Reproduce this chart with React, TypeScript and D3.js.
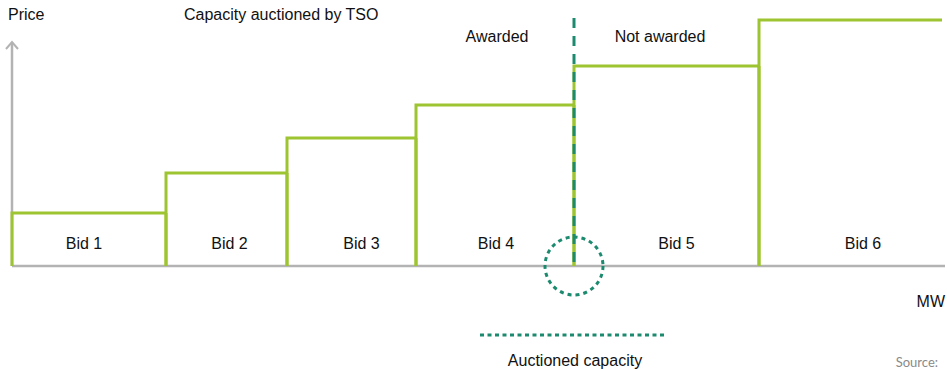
import React, { useEffect, useRef } from 'react'
import { select, scaleLinear, sum } from 'd3'

// bids: offered MW and price (arbitrary units)
const bidNames = ['Bid 1', 'Bid 2', 'Bid 3', 'Bid 4', 'Bid 5', 'Bid 6']
const bidMW = [154, 121, 129, 158, 185, 186]
const bidPrice = [53, 93, 128, 161, 200, 246]
const awardedCount = 4
// labels are not exactly centred in the original
const labelNudge = [-5, 3, 10, 1, 10, 11]

function App() {
  const ref = useRef<SVGSVGElement>(null)
  const width = 947, height = 369
  const x0 = 12, x1 = 945, yBase = 266

  useEffect(() => {
    const svg = select(ref.current)
    svg.selectAll('*').remove()

    const x = scaleLinear().domain([0, sum(bidMW)]).range([x0, x1])
    const y = scaleLinear().domain([0, 250]).range([yBase, 16])
    const green = '#9dc431'
    const teal = '#1c8a6f'
    const font = 'Liberation Sans, Arial, sans-serif'

    const starts: number[] = []
    let acc = 0
    bidMW.forEach(w => { starts.push(acc); acc += w })

    // axes
    svg.append('line')
      .attr('x1', x0).attr('x2', x1).attr('y1', yBase).attr('y2', yBase)
      .attr('stroke', '#b3b3b3').attr('stroke-width', 2.5)
    svg.append('line')
      .attr('x1', x0).attr('x2', x0).attr('y1', yBase).attr('y2', 42)
      .attr('stroke', '#b3b3b3').attr('stroke-width', 2.5)
    svg.append('path')
      .attr('d', `M${x0 - 6},${49} L${x0},${42} L${x0 + 6},${49}`)
      .attr('fill', 'none').attr('stroke', '#b3b3b3').attr('stroke-width', 2)

    // bid steps
    const g = svg.append('g')
    bidMW.forEach((w, i) => {
      const xa = x(starts[i]), xb = x(starts[i] + w)
      const top = y(bidPrice[i])
      g.append('path')
        .attr('d', `M${xa},${yBase}L${xa},${top}L${i === bidMW.length - 1 ? xb - 3 : xb},${top}`)
        .attr('fill', 'none').attr('stroke', green).attr('stroke-width', 3)
      if (i < bidMW.length - 1) {
        g.append('line')
          .attr('x1', xb).attr('x2', xb).attr('y1', yBase).attr('y2', top)
          .attr('stroke', green).attr('stroke-width', 3)
      }
      g.append('text')
        .attr('x', (xa + xb) / 2 + labelNudge[i]).attr('y', 249)
        .attr('text-anchor', 'middle')
        .attr('font-family', font).attr('font-size', 16).attr('fill', '#111')
        .text(bidNames[i])
    })

    // auctioned capacity marker
    const cap = x(sum(bidMW.slice(0, awardedCount)))
    svg.append('line')
      .attr('x1', cap).attr('x2', cap).attr('y1', 18).attr('y2', yBase)
      .attr('stroke', teal).attr('stroke-width', 3).attr('stroke-dasharray', '10,8')
    svg.append('circle')
      .attr('cx', cap).attr('cy', yBase).attr('r', 29)
      .attr('fill', 'none').attr('stroke', teal).attr('stroke-width', 3)
      .attr('stroke-dasharray', '4,4')
    svg.append('line')
      .attr('x1', 480).attr('x2', 666).attr('y1', 335).attr('y2', 335)
      .attr('stroke', teal).attr('stroke-width', 3).attr('stroke-dasharray', '4,3.5')

    const label = (t: string, px: number, py: number, anchor = 'start', size = 16, color = '#111', fam = font) =>
      svg.append('text').attr('x', px).attr('y', py).attr('text-anchor', anchor)
        .attr('font-family', fam).attr('font-size', size).attr('fill', color).text(t)

    label('Price', 8, 20)
    label('Capacity auctioned by TSO', 184, 20)
    label('Awarded', 497, 42, 'middle')
    label('Not awarded', 660, 42, 'middle')
    label('MW', 945, 307, 'end')
    label('Auctioned capacity', 575, 366, 'middle')
    label('Source:', 938, 367, 'end', 13, '#8a8a8a', 'Lato, sans-serif')
  }, [])

  return (
    <svg ref={ref} width={width} height={height}
      style={{ position: 'absolute', left: 0, top: 0, background: '#fff' }} />
  )
}

export default App
